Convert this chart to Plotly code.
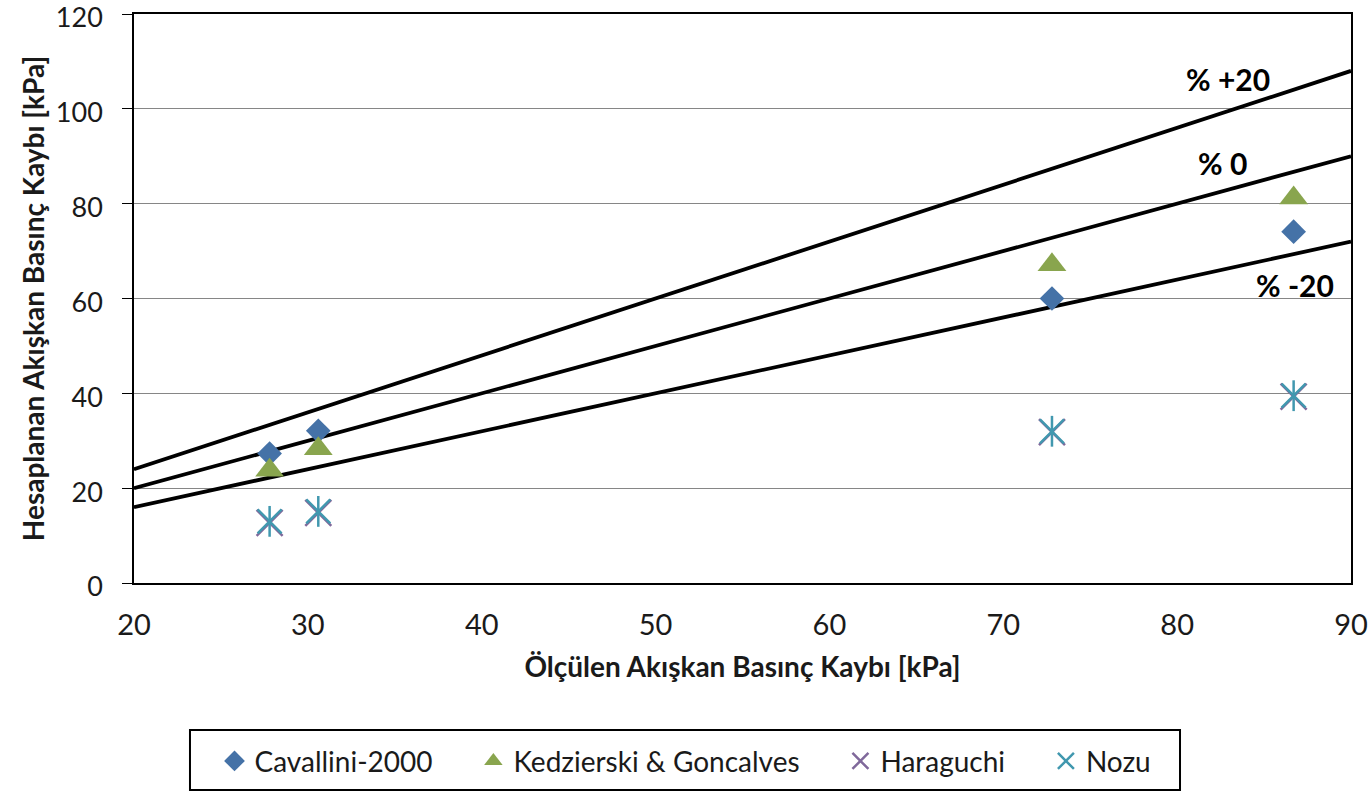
import plotly.graph_objects as go

# Measured pressure drop [kPa] for the four test points
measured = [27.8, 30.6, 72.8, 86.7]

# Calculated pressure drop [kPa] by correlation
cavallini = [27.3, 32.1, 60.0, 74.1]
kedzierski = [23.8, 28.3, 67.1, 81.2]
haraguchi = [12.7, 14.8, 31.8, 39.3]
nozu = [13.0, 15.1, 32.0, 39.5]

# Deviation bands (+20 %, 0 %, -20 %)
band_labels = ["% +20", "% 0", "% -20"]
band_factors = [1.2, 1.0, 0.8]
band_x = [20, 90]
band_label_pos = [(82.9, 106.2), (82.6, 88.6), (86.8, 62.8)]

x_ticks = [20, 30, 40, 50, 60, 70, 80, 90]
y_ticks = [0, 20, 40, 60, 80, 100, 120]

FONT = "Lato"
TXT = "#1a1a1a"
PAD = "\u00a0" * 5

fig = go.Figure()

for f in band_factors:
    fig.add_trace(go.Scatter(
        x=band_x, y=[f * v for v in band_x], mode="lines",
        line=dict(color="black", width=3.8), showlegend=False, hoverinfo="skip"))

fig.add_trace(go.Scatter(
    x=measured, y=cavallini, mode="markers", name="Cavallini-2000" + PAD,
    marker=dict(symbol="diamond", size=19, color="#4572A7")))
fig.add_trace(go.Scatter(
    x=measured, y=kedzierski, mode="markers", name="Kedzierski & Goncalves" + PAD,
    marker=dict(symbol="triangle-up", size=25, color="#89A54E")))
fig.add_trace(go.Scatter(
    x=measured, y=haraguchi, mode="markers", name="Haraguchi" + PAD,
    marker=dict(symbol="x-thin", size=26, color="#80699B",
                line=dict(width=2.5, color="#80699B"))))
fig.add_trace(go.Scatter(
    x=measured, y=nozu, mode="markers", name="Nozu",
    marker=dict(symbol="x-thin", size=24, color="#4198AF",
                line=dict(width=2.5, color="#4198AF"))))
fig.add_trace(go.Scatter(
    x=measured, y=nozu, mode="markers", showlegend=False, hoverinfo="skip",
    marker=dict(symbol="line-ns", size=22, color="#4198AF",
                line=dict(width=2.5, color="#4198AF"))))

for text, (lx, ly) in zip(band_labels, band_label_pos):
    fig.add_annotation(x=lx, y=ly, text=f"<b>{text}</b>", showarrow=False,
                       font=dict(family=FONT, size=30, color="black"))

# Frame around the legend, below the plot area
fig.add_shape(type="rect", xref="paper", yref="paper",
              x0=0.046, x1=0.8595, y0=-0.3638, y1=-0.2583,
              line=dict(color="black", width=2), fillcolor="rgba(0,0,0,0)")

fig.update_layout(
    width=1371, height=791,
    margin=dict(l=134, r=20, t=14, b=208, autoexpand=False),
    paper_bgcolor="white", plot_bgcolor="white",
    font=dict(family=FONT, size=28, color=TXT),
    legend=dict(
        orientation="h", xref="container", yref="container",
        x=0.5, xanchor="center", y=0.006, yanchor="bottom",
        borderwidth=0, bgcolor="rgba(0,0,0,0)",
        font=dict(family=FONT, size=28, color=TXT),
        itemwidth=30, tracegroupgap=0,
    ),
)

fig.update_xaxes(
    range=[20, 90], tickvals=x_ticks, showgrid=False, zeroline=False,
    showline=True, linecolor="black", linewidth=1.5, mirror=True,
    ticks="", ticklen=0, ticklabelstandoff=15, ticklabeloverflow="allow",
    tickfont=dict(family=FONT, size=29, color=TXT),
    title=dict(text="<b>Ölçülen Akışkan Basınç Kaybı [kPa]</b>",
               font=dict(family=FONT, size=28, color=TXT), standoff=18),
)
fig.update_yaxes(
    range=[0, 120], tickvals=y_ticks, showgrid=True, gridcolor="#868686",
    gridwidth=1, zeroline=False,
    showline=True, linecolor="black", linewidth=1.5, mirror=True,
    ticks="outside", ticklen=10, tickcolor="black", ticklabelstandoff=14,
    ticklabeloverflow="allow", ticklabelshift=4,
    tickfont=dict(family=FONT, size=27, color=TXT),
    title=dict(text="<b>Hesaplanan Akışkan Basınç Kaybı [kPa]</b>",
               font=dict(family=FONT, size=28, color=TXT), standoff=3),
)

fig.write_html("out.html")
